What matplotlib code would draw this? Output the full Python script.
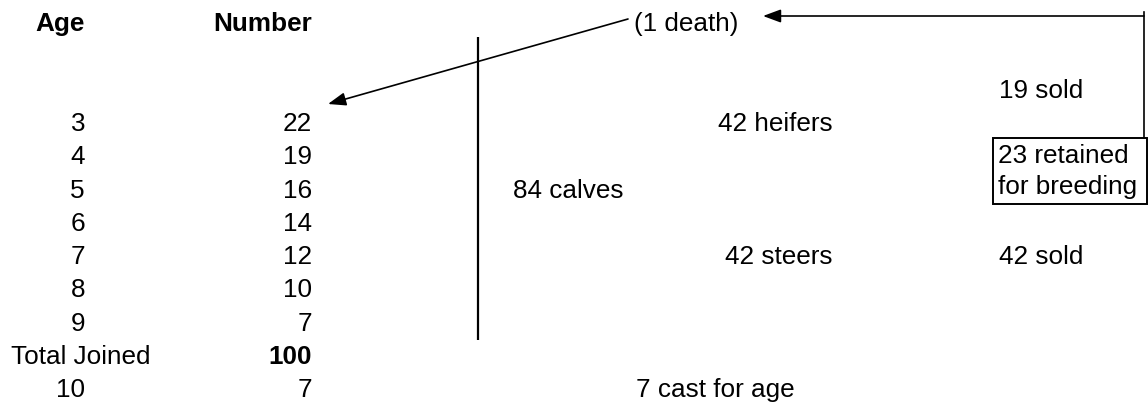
import matplotlib
matplotlib.use("Agg")
import matplotlib.pyplot as plt
from matplotlib.patches import FancyArrowPatch, Rectangle

plt.rcParams['font.family'] = ['Liberation Sans', 'DejaVu Sans']

# ---- data ----
header_age = "Age"
header_number = "Number"
ages = [3, 4, 5, 6, 7, 8, 9]
numbers = [22, 19, 16, 14, 12, 10, 7]
total_label = "Total Joined"
total_joined = 100
cast_age = 10
cast_number = 7
death_label = "(1 death)"
calves_label = "84 calves"
heifers_label = "42 heifers"
steers_label = "42 steers"
heifers_sold_label = "19 sold"
retained_lines = ["23 retained", "for breeding"]
steers_sold_label = "42 sold"
cast_label = "7 cast for age"

# ---- layout (pixel space) ----
W, H = 1148, 403
fig = plt.figure(figsize=(W / 100, H / 100), dpi=100)
ax = fig.add_axes([0, 0, 1, 1])
ax.set_xlim(0, W)
ax.set_ylim(H, 0)
ax.axis("off")

FS = 18.8
ROW0 = 31.0      # baseline of first row
ROWH = 33.3


def base(k):
    return ROW0 + ROWH * k


AGE_R = 85
NUM_R = 312

# headers
ax.text(AGE_R, base(0), header_age, ha="right", va="baseline", fontsize=FS, fontweight="bold")
ax.text(NUM_R, base(0), header_number, ha="right", va="baseline", fontsize=FS, fontweight="bold")

# table rows
for i, (a, n) in enumerate(zip(ages, numbers)):
    ax.text(AGE_R, base(3 + i), str(a), ha="right", va="baseline", fontsize=FS)
    ax.text(NUM_R, base(3 + i), str(n), ha="right", va="baseline", fontsize=FS)

ax.text(11, base(10), total_label, ha="left", va="baseline", fontsize=FS)
ax.text(NUM_R, base(10), str(total_joined), ha="right", va="baseline", fontsize=FS, fontweight="bold")
ax.text(AGE_R, base(11), str(cast_age), ha="right", va="baseline", fontsize=FS)
ax.text(NUM_R, base(11), str(cast_number), ha="right", va="baseline", fontsize=FS)

# flow labels
ax.text(634, base(0), death_label, ha="left", va="baseline", fontsize=FS)
ax.text(513, base(5), calves_label, ha="left", va="baseline", fontsize=FS)
ax.text(718, base(3), heifers_label, ha="left", va="baseline", fontsize=FS)
ax.text(725, base(7), steers_label, ha="left", va="baseline", fontsize=FS)
ax.text(999, base(2), heifers_sold_label, ha="left", va="baseline", fontsize=FS)
ax.text(999, base(7), steers_sold_label, ha="left", va="baseline", fontsize=FS)
ax.text(636, base(11), cast_label, ha="left", va="baseline", fontsize=FS)
for j, line in enumerate(retained_lines):
    ax.text(998, base(4) - 1 + j * 31, line, ha="left", va="baseline", fontsize=FS)

# box around retained
ax.add_patch(Rectangle((993, 138), 1147 - 993, 204 - 138, fill=False,
                       edgecolor="black", linewidth=1.4))

# vertical divider
ax.plot([477.5, 477.5], [37, 340], color="black", linewidth=1.6, solid_capstyle="butt")

# connector from box up and back to (1 death)
ax.plot([1144, 1144], [12, 138], color="black", linewidth=1.2)
ax.add_patch(FancyArrowPatch((1144, 16), (763, 16),
                             arrowstyle="-|>,head_length=10.8,head_width=4",
                             mutation_scale=1, shrinkA=0, shrinkB=0,
                             color="black", linewidth=1.2))

# diagonal arrow from (1 death) to the 3-year-olds
ax.add_patch(FancyArrowPatch((628, 19), (328, 104),
                             arrowstyle="-|>,head_length=10.8,head_width=4",
                             mutation_scale=1, shrinkA=0, shrinkB=0,
                             color="black", linewidth=1.2))

fig.savefig("out.png", dpi=100)
